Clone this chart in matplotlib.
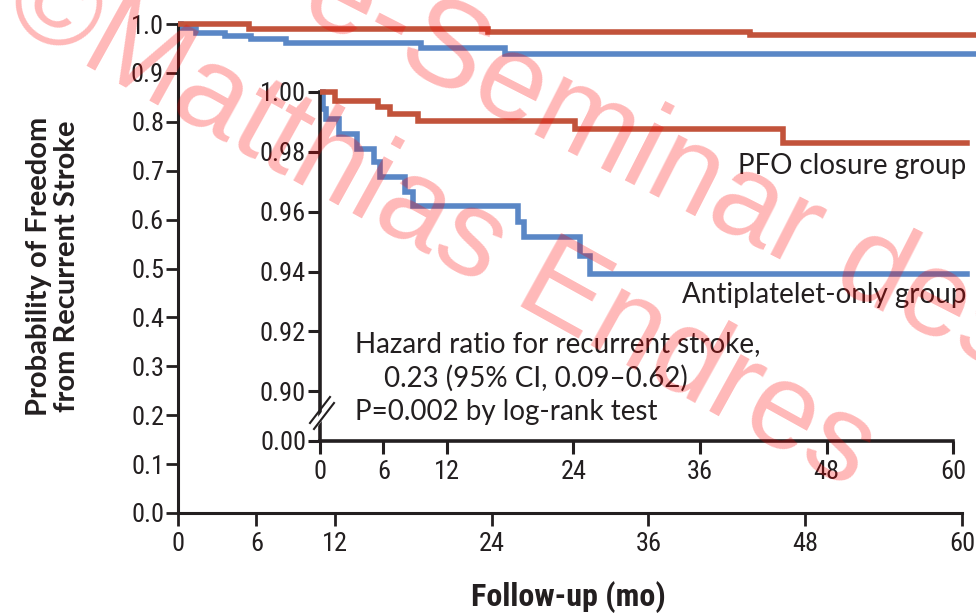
import matplotlib
matplotlib.use("Agg")
import matplotlib.pyplot as plt
from matplotlib import font_manager
from matplotlib.lines import Line2D
from matplotlib.patches import Polygon

# --- data ---
# main panel, probability scale 0-1
main_pfo_t = [0, 5.4, 23.7, 43.8, 61.3]
main_pfo_s = [1.0, 0.990, 0.984, 0.977, 0.977]
main_anti_t = [0, 0.2, 1.4, 3.6, 5.6, 8.3, 18.6, 25.0, 61.3]
main_anti_s = [1.0, 0.9916, 0.9813, 0.9746, 0.970, 0.961, 0.950, 0.938, 0.938]

# inset, zoomed scale
inset_pfo_t = [0, 1.4, 5.5, 6.6, 9.3, 24.2, 43.9, 61.3]
inset_pfo_s = [1.0, 0.997, 0.9948, 0.9926, 0.9903, 0.9876, 0.9828, 0.9828]
inset_anti_t = [0, 0.3, 0.6, 1.8, 3.5, 5.1, 5.7, 8.1, 8.8, 18.8, 19.3, 24.6, 25.6, 61.3]
inset_anti_s = [1.0, 0.9942, 0.9909, 0.9859, 0.9809, 0.9764, 0.9714, 0.9664, 0.9617,
                0.9564, 0.9514, 0.9453, 0.9392, 0.9392]

main_yticks = [0.0, 0.1, 0.2, 0.3, 0.4, 0.5, 0.6, 0.7, 0.8, 0.9, 1.0]
main_ylabels = ["0.0", "0.1", "0.2", "0.3", "0.4", "0.5", "0.6", "0.7", "0.8", "0.9", "1.0"]
xticks = [0, 6, 12, 24, 36, 48, 60]
inset_yticks = [0.8835, 0.90, 0.92, 0.94, 0.96, 0.98, 1.00]
inset_ylabels = ["0.00", "0.90", "0.92", "0.94", "0.96", "0.98", "1.00"]

red = "#c2533b"
blue = "#5a87c6"
ink = "#231f20"

names = {f.name for f in font_manager.fontManager.ttflist}


def pick(*cands):
    return next((c for c in cands if c in names), "DejaVu Sans")


num_font = pick("Liberation Sans Narrow", "Roboto Condensed", "Liberation Sans")
txt_font = pick("Lato", "Open Sans")
wm_font = pick("Liberation Sans", "DejaVu Sans")

W, H = 976, 614
fig = plt.figure(figsize=(W / 100, H / 100), dpi=100)


def fx(px):
    return px / W


def fy(py):
    return 1 - py / H


# main axes: x=0 at px 178, y=0 at px 513, 1.0 at px 24
ax = fig.add_axes([fx(178), fy(513), fx(W - 178), 513 / H])
ax.set_xlim(0, (W - 178) / (784 / 60))
ax.set_ylim(0, 513 / 489)
ax.step(main_pfo_t, main_pfo_s, where="post", color=red, lw=4.0, solid_joinstyle="miter", zorder=3)
ax.step(main_anti_t, main_anti_s, where="post", color=blue, lw=4.0, solid_joinstyle="miter", zorder=2)

for s in ["top", "right"]:
    ax.spines[s].set_visible(False)
for s in ["left", "bottom"]:
    ax.spines[s].set_linewidth(2.2)
    ax.spines[s].set_color(ink)
ax.spines["bottom"].set_bounds(0, 60)
ax.spines["left"].set_bounds(0, 1.0)
ax.set_xticks(xticks)
ax.set_xticklabels([str(t) for t in xticks], fontfamily=num_font, fontsize=19, color=ink)
ax.set_yticks(main_yticks)
ax.set_yticklabels(main_ylabels, fontfamily=num_font, fontsize=19, color=ink)
ax.tick_params(axis="x", length=9, width=2.0, color=ink, pad=5)
ax.tick_params(axis="y", length=9, width=2.0, color=ink, pad=1)
ax.patch.set_visible(False)

# inset axes: x=0 at px 320, 60 at px 953.3; 1.00 at px 91.5, 0.02 per 60 px
ins = fig.add_axes([fx(320), fy(441), fx(W - 320), (441 - 82) / H])
ins.set_xlim(0, (W - 320) / (633.3 / 60))
ins.set_ylim(1 - (441 - 91.5) / 3000, 1 + 9.5 / 3000)
ins.step(inset_pfo_t, inset_pfo_s, where="post", color=red, lw=4.0, solid_joinstyle="miter", zorder=3)
ins.step(inset_anti_t, inset_anti_s, where="post", color=blue, lw=4.0, solid_joinstyle="miter", zorder=2)
for s in ["top", "right"]:
    ins.spines[s].set_visible(False)
for s in ["left", "bottom"]:
    ins.spines[s].set_linewidth(2.6)
    ins.spines[s].set_color(ink)
ins.spines["bottom"].set_bounds(0, 60)
ins.spines["left"].set_bounds(inset_yticks[0], 1.0)
ins.set_xticks(xticks)
ins.set_xticklabels([str(t) for t in xticks], fontfamily=num_font, fontsize=19, color=ink)
ins.set_yticks(inset_yticks)
ins.set_yticklabels(inset_ylabels, fontfamily=num_font, fontsize=19, color=ink)
ins.tick_params(axis="x", length=9, width=2.2, color=ink, pad=5)
ins.tick_params(axis="y", length=9, width=2.2, color=ink, pad=1)
ins.patch.set_visible(False)

# axis break marks on the inset y axis
gap = Polygon([(fx(312), fy(425)), (fx(330), fy(401)), (fx(333), fy(406)), (fx(315), fy(430))],
              closed=True, transform=fig.transFigure, facecolor="white", edgecolor="none", zorder=5)
fig.add_artist(gap)
for dx, dy in [(0, 0), (4, 6)]:
    fig.add_artist(Line2D([fx(310 + dx), fx(330 + dx)], [fy(423 + dy), fy(397 + dy)],
                          transform=fig.transFigure, color=ink, lw=1.5, zorder=6))

# annotations
fig.text(fx(966), fy(166), "PFO closure group", ha="right", va="center",
         fontfamily=txt_font, fontsize=20, color=ink)
fig.text(fx(966), fy(295), "Antiplatelet-only group", ha="right", va="center",
         fontfamily=txt_font, fontsize=20, color=ink)
fig.text(fx(355), fy(344), "Hazard ratio for recurrent stroke,", ha="left", va="center",
         fontfamily=txt_font, fontsize=20, color=ink)
fig.text(fx(384), fy(378), "0.23 (95% CI, 0.09\u20130.62)", ha="left", va="center",
         fontfamily=txt_font, fontsize=20, color=ink)
fig.text(fx(355), fy(412), "P=0.002 by log-rank test", ha="left", va="center",
         fontfamily=txt_font, fontsize=20, color=ink)

# axis titles
fig.text(fx(53), fy(266), "Probability of Freedom\nfrom Recurrent Stroke", rotation=90,
         ha="center", va="center", multialignment="center", fontfamily=txt_font,
         fontweight="bold", fontsize=21, color=ink, linespacing=1.05)
fig.text(fx(568), fy(597), "Follow-up (mo)", ha="center", va="center",
         fontfamily=num_font, fontweight="bold", fontsize=23, color=ink)

# watermark
fig.text(fx(440), fy(225), "\u00a9Matthias Endres", rotation=-29, rotation_mode="anchor",
         ha="center", va="center", fontfamily=wm_font, fontsize=88, color="red", alpha=0.28, zorder=10)
fig.text(fx(665), fy(165), "e-Seminar des", rotation=-27, rotation_mode="anchor",
         ha="center", va="center", fontfamily=wm_font, fontsize=88, color="red", alpha=0.28, zorder=10)

fig.savefig("out.png", dpi=100)
